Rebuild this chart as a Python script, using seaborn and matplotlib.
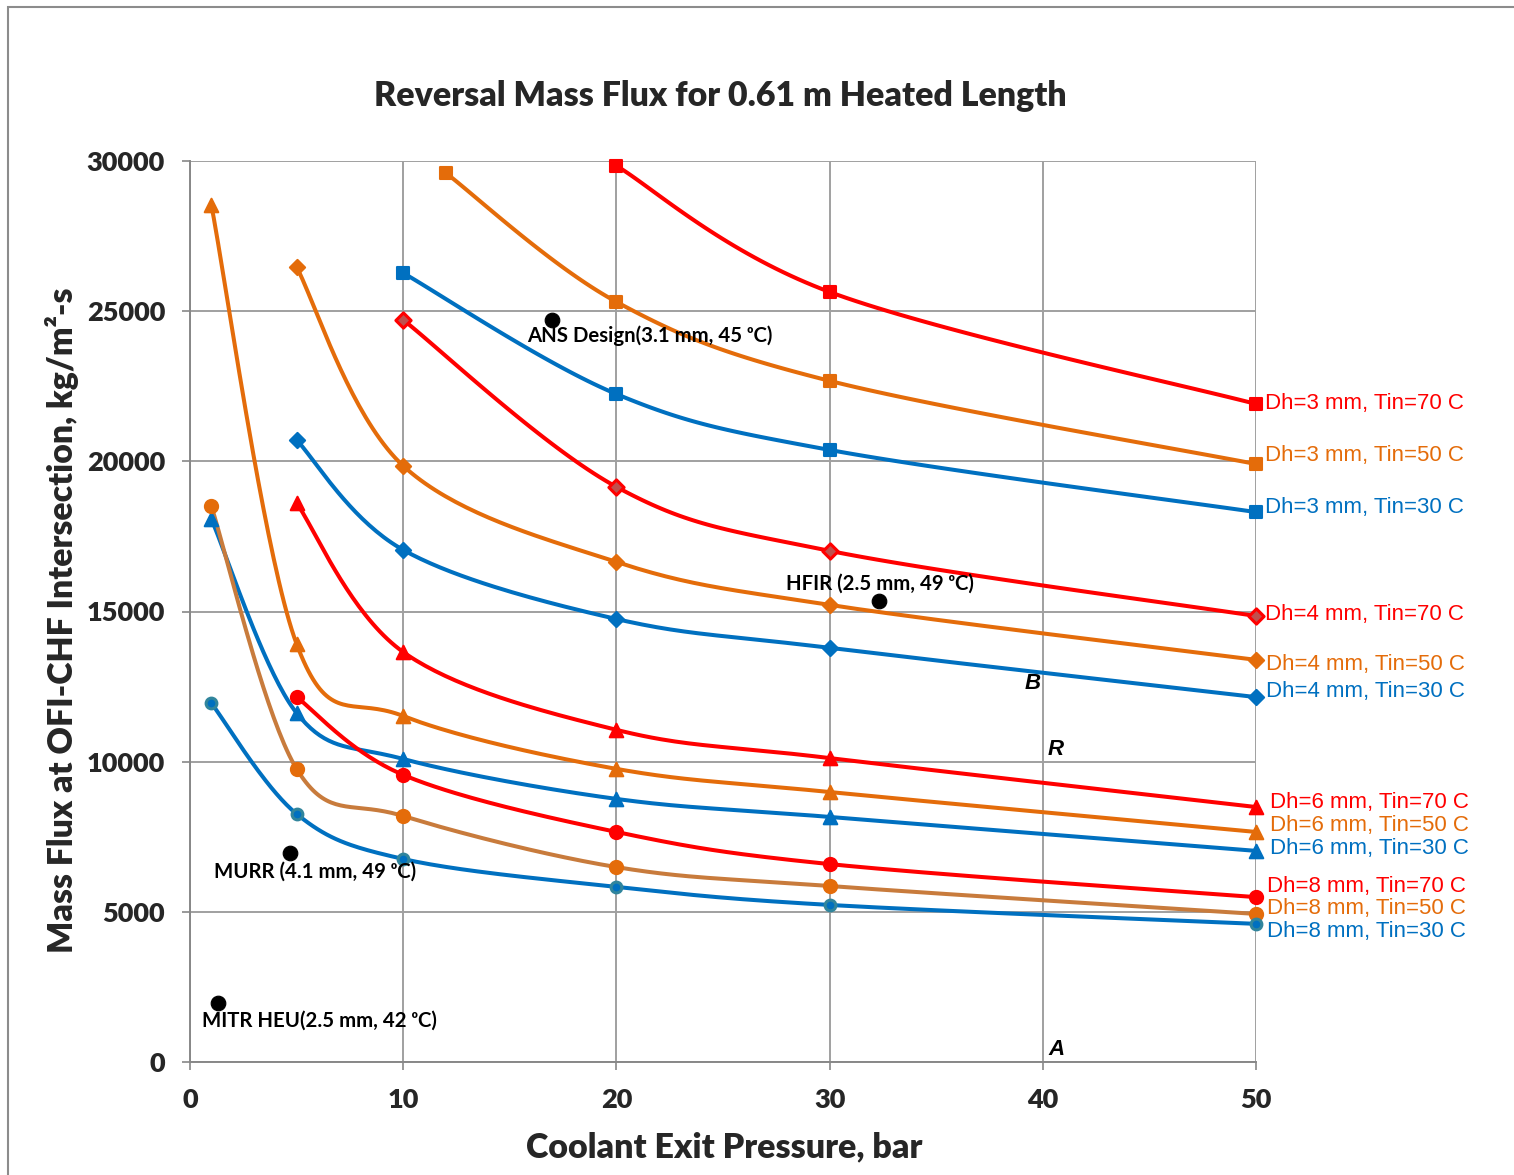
import numpy as np
import pandas as pd
import matplotlib
matplotlib.use("Agg")
import matplotlib.pyplot as plt
from matplotlib.patches import Rectangle
import seaborn as sns

# ---- data: reversal mass flux (kg/m2-s) vs coolant exit pressure (bar) ----
p_dh3_t70 = [20, 30, 50]
g_dh3_t70 = [29840, 25640, 21910]
p_dh3_t50 = [12, 20, 30, 50]
g_dh3_t50 = [29600, 25310, 22680, 19910]
p_dh3_t30 = [10, 20, 30, 50]
g_dh3_t30 = [26270, 22240, 20380, 18310]

p_dh4_t70 = [10, 20, 30, 50]
g_dh4_t70 = [24710, 19150, 17020, 14850]
p_dh4_t50 = [5, 10, 20, 30, 50]
g_dh4_t50 = [26470, 19850, 16650, 15220, 13390]
p_dh4_t30 = [5, 10, 20, 30, 50]
g_dh4_t30 = [20710, 17050, 14750, 13790, 12150]

p_dh6_t70 = [5, 10, 20, 30, 50]
g_dh6_t70 = [18610, 13650, 11060, 10120, 8490]
p_dh6_t50 = [1, 5, 10, 20, 30, 50]
g_dh6_t50 = [28540, 13920, 11520, 9760, 8990, 7660]
p_dh6_t30 = [1, 5, 10, 20, 30, 50]
g_dh6_t30 = [18080, 11620, 10090, 8760, 8160, 7030]

p_dh8_t70 = [5, 10, 20, 30, 50]
g_dh8_t70 = [12150, 9560, 7660, 6590, 5490]
p_dh8_t50 = [1, 5, 10, 20, 30, 50]
g_dh8_t50 = [18510, 9760, 8190, 6490, 5860, 4930]
p_dh8_t30 = [1, 5, 10, 20, 30, 50]
g_dh8_t30 = [11950, 8260, 6760, 5830, 5230, 4600]

series_labels = [
    "Dh=3 mm, Tin=70 C", "Dh=3 mm, Tin=50 C", "Dh=3 mm, Tin=30 C",
    "Dh=4 mm, Tin=70 C", "Dh=4 mm, Tin=50 C", "Dh=4 mm, Tin=30 C",
    "Dh=6 mm, Tin=70 C", "Dh=6 mm, Tin=50 C", "Dh=6 mm, Tin=30 C",
    "Dh=8 mm, Tin=70 C", "Dh=8 mm, Tin=50 C", "Dh=8 mm, Tin=30 C",
]

# reactor operating points
reactor_names = ["ANS Design(3.1 mm, 45 \u1d52C)", "HFIR (2.5 mm, 49 \u1d52C)",
                 "MURR (4.1 mm, 49 \u1d52C)", "MITR HEU(2.5 mm, 42 \u1d52C)"]
reactor_p = [17.0, 32.3, 4.7, 1.3]
reactor_g = [24710, 15350, 6960, 1960]

# ---- styling ----
RED = "#FF0000"
ORANGE = "#E46C0A"
BLUE = "#0070C0"
BROWN = "#C87B3C"
TEAL = "#31859C"
DKRED = "#C0504D"

# (x, y, line colour, marker, marker face, marker edge, marker size, label offset px)
styles = [
    (p_dh3_t70, g_dh3_t70, RED, "s", RED, RED, 75, (9, 0)),
    (p_dh3_t50, g_dh3_t50, ORANGE, "s", ORANGE, ORANGE, 75, (9, 9)),
    (p_dh3_t30, g_dh3_t30, BLUE, "s", BLUE, BLUE, 75, (9, 5)),
    (p_dh4_t70, g_dh4_t70, RED, "D", DKRED, RED, 60, (9, 2)),
    (p_dh4_t50, g_dh4_t50, ORANGE, "D", ORANGE, ORANGE, 60, (10, -5)),
    (p_dh4_t30, g_dh4_t30, BLUE, "D", BLUE, BLUE, 60, (10, 6)),
    (p_dh6_t70, g_dh6_t70, RED, "^", RED, RED, 95, (14, 5)),
    (p_dh6_t50, g_dh6_t50, ORANGE, "^", ORANGE, ORANGE, 95, (14, 6)),
    (p_dh6_t30, g_dh6_t30, BLUE, "^", BLUE, BLUE, 95, (14, 2)),
    (p_dh8_t70, g_dh8_t70, RED, "o", RED, RED, 90, (11, 11)),
    (p_dh8_t50, g_dh8_t50, BROWN, "o", ORANGE, ORANGE, 90, (11, 5)),
    (p_dh8_t30, g_dh8_t30, BLUE, "o", BLUE, TEAL, 60, (11, -8)),
]


def smooth_curve(x, y, n=40):
    """Cardinal (Catmull-Rom) Bezier smoothing through the given points."""
    pts = np.column_stack([x, y]).astype(float)
    out = [pts[0]]
    t = np.linspace(0, 1, n)[1:, None]
    for i in range(len(pts) - 1):
        p0 = pts[i - 1] if i > 0 else pts[i]
        p1, p2 = pts[i], pts[i + 1]
        p3 = pts[i + 2] if i + 2 < len(pts) else pts[i + 1]
        c1 = p1 + (p2 - p0) / 6.0
        c2 = p2 - (p3 - p1) / 6.0
        seg = (1 - t) ** 3 * p1 + 3 * (1 - t) ** 2 * t * c1 + 3 * (1 - t) * t ** 2 * c2 + t ** 3 * p2
        out.extend(seg)
    out = np.array(out)
    return out[:, 0], out[:, 1]


sns.set_theme(style="white")
plt.rcParams["font.family"] = ["Lato", "DejaVu Sans"]

DPI = 100
fig = plt.figure(figsize=(15.14, 11.75), dpi=DPI)
ax = fig.add_axes([190 / 1514, 1 - 1062 / 1175, (1256 - 190) / 1514, (1062 - 161) / 1175])

GRID = "#A0A0A0"
ax.set_xlim(0, 50)
ax.set_ylim(0, 30000)
ax.set_xticks(range(0, 51, 10))
ax.set_yticks(range(0, 30001, 5000))
ax.grid(True, color=GRID, lw=1.4, zorder=0)
for s in ["top", "right"]:
    ax.spines[s].set_visible(False)
for s in ["left", "bottom"]:
    ax.spines[s].set_color("#888888")
    ax.spines[s].set_linewidth(1.4)
ax.tick_params(axis="both", which="major", direction="out", length=6, width=1.2,
               color="#888888", labelsize=19.5)
ax.tick_params(axis="x", pad=13, bottom=True)
ax.tick_params(axis="y", pad=12, left=True)
for lab in ax.get_xticklabels() + ax.get_yticklabels():
    lab.set_fontweight("heavy")

for (x, y, lc, mk, mf, me, ms, off), name in zip(styles, series_labels):
    sx, sy = smooth_curve(x, y)
    curve = pd.DataFrame({"p": sx, "g": sy})
    sns.lineplot(data=curve, x="p", y="g", sort=False, estimator=None,
                 color=lc, lw=2.9, ax=ax, zorder=3, legend=False)
    pts = pd.DataFrame({"p": x, "g": y})
    sns.scatterplot(data=pts, x="p", y="g", marker=mk, s=ms, color=mf,
                    edgecolor=me, linewidth=1.5 if me == mf else 2.2,
                    ax=ax, zorder=4, clip_on=False, legend=False)
    ax.annotate(name, xy=(x[-1], y[-1]), xytext=(off[0] * 0.72, off[1] * 0.72),
                textcoords="offset points", ha="left", va="center",
                color=lc if lc != BROWN else ORANGE, fontsize=16,
                family="Liberation Sans", annotation_clip=False)

# reactor design points
rp = pd.DataFrame({"p": reactor_p, "g": reactor_g})
sns.scatterplot(data=rp, x="p", y="g", color="black", s=110, edgecolor="black",
                ax=ax, zorder=5, legend=False)
label_pos = [(21.58, 24180), (32.36, 15920), (5.86, 6330), (6.05, 1365)]
for name, (lx, ly) in zip(reactor_names, label_pos):
    ax.text(lx, ly, name, ha="center", va="center", fontsize=14.7,
            fontweight="bold", color="black", zorder=6)

# region letters
for letter, lx, ly in [("B", 39.54, 12590), ("R", 40.62, 10390), ("A", 40.62, 400)]:
    ax.text(lx, ly, letter, ha="center", va="center", fontsize=16,
            fontweight="bold", fontstyle="italic", family="Liberation Sans",
            color="black", zorder=6)

ax.set_xlabel("")
ax.set_ylabel("")
fig.text(724 / 1514, 1 - 1147 / 1175, "Coolant Exit Pressure, bar", ha="center",
         va="center", fontsize=24.5, fontweight="heavy")
fig.text(62 / 1514, 1 - 620 / 1175, "Mass Flux at OFI-CHF Intersection, kg/m\u00b2-s",
         ha="center", va="center", rotation=90, fontsize=24.3, fontweight="heavy")
fig.text(720 / 1514, 1 - 96 / 1175, "Reversal Mass Flux for 0.61 m Heated Length",
         ha="center", va="center", fontsize=24.4, fontweight="heavy")

# chart area border
fig.patches.append(Rectangle((8 / 1514, -0.1), 1.2, 1.1 - 7 / 1175,
                             transform=fig.transFigure, fill=False,
                             edgecolor="#8C8C8C", lw=1.5))

fig.savefig("out.png", dpi=DPI)
